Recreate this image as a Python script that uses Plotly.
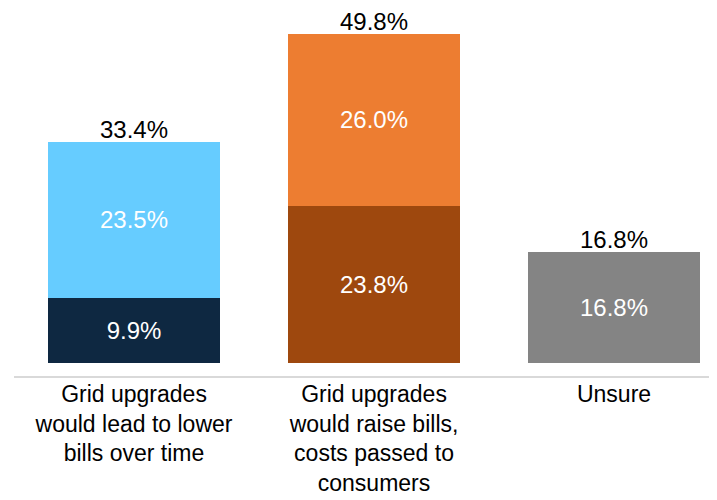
import plotly.graph_objects as go

categories = [
    "Grid upgrades<br>would lead to lower<br>bills over time",
    "Grid upgrades<br>would raise bills,<br>costs passed to<br>consumers",
    "Unsure",
]
bottom_vals = [9.9, 23.8, 16.8]
top_vals = [23.5, 26.0, None]
totals = [33.4, 49.8, 16.8]

bottom_colors = ["#0E2841", "#9E480E", "#848484"]
top_colors = ["#66CCFF", "#ED7D31", "#848484"]

font_family = "Arial, Liberation Sans, sans-serif"
xs = list(range(len(categories)))

fig = go.Figure()
fig.add_trace(go.Bar(
    x=xs, y=bottom_vals, marker=dict(color=bottom_colors, line=dict(width=0)),
    width=0.717,
    text=[f"{v:.1f}%" for v in bottom_vals], textposition="inside",
    insidetextanchor="middle",
    textfont=dict(color="white", size=24, family=font_family),
    hoverinfo="skip",
))
fig.add_trace(go.Bar(
    x=xs, y=top_vals, marker=dict(color=top_colors, line=dict(width=0)),
    width=0.717,
    text=[f"{v:.1f}%" if v is not None else "" for v in top_vals], textposition="inside",
    insidetextanchor="middle",
    textfont=dict(color="white", size=24, family=font_family),
    hoverinfo="skip",
))

for x, t in zip(xs, totals):
    fig.add_annotation(x=x, y=t, text=f"{t:.1f}%", showarrow=False,
                       yanchor="bottom", yshift=-3,
                       font=dict(color="black", size=24, family=font_family))

# page body has an 8px margin, so the figure is laid out 8px in from the window edge
fig.update_layout(
    barmode="stack",
    width=717, height=500,
    margin=dict(l=6, r=8, t=0, b=132),
    plot_bgcolor="white", paper_bgcolor="white",
    showlegend=False,
    font=dict(family=font_family, color="black"),
    uniformtext=dict(minsize=20, mode="show"),
)
fig.update_xaxes(
    range=[-0.5, 2.429], tickvals=xs, ticktext=categories,
    showline=True, linecolor="#d9d9d9", linewidth=2,
    showgrid=False, zeroline=False, ticks="", automargin=False,
    ticklabelstandoff=-4,
    tickfont=dict(size=23, color="black", family=font_family),
)
fig.update_yaxes(range=[-1.97, 53.7], visible=False, showgrid=False,
                 zeroline=False, automargin=False)

fig.write_html("out.html")
